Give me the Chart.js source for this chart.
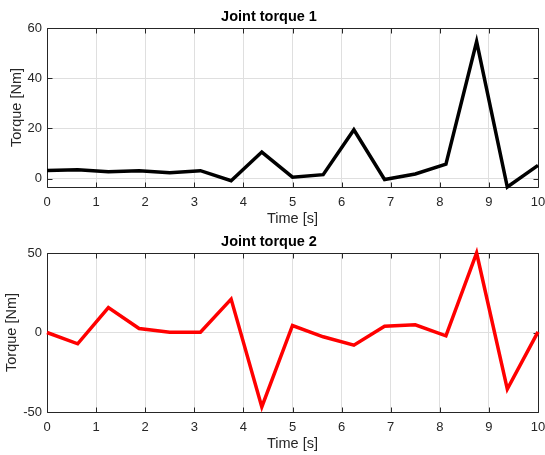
<!DOCTYPE html>
<html><head><meta charset="utf-8">
<script src="https://cdn.jsdelivr.net/npm/chart.js@4/dist/chart.umd.min.js"></script>
<style>
html,body{margin:0;padding:0;background:#fff;}
#wrap{position:relative;width:545px;height:455px;overflow:hidden;background:#fff;}
canvas{position:absolute;left:0;}
</style></head><body>
<div id="wrap">
<canvas id="c1" width="545" height="228" style="top:0px"></canvas>
<canvas id="c2" width="545" height="228" style="top:225px"></canvas>
</div>
<script>
// ---- data ----
const time = [0, 0.625, 1.25, 1.875, 2.5, 3.125, 3.75, 4.375, 5, 5.625, 6.25, 6.875, 7.5, 8.125, 8.75, 9.375, 10];
const torque1 = [3.3, 3.6, 2.8, 3.2, 2.4, 3.2, -0.8, 10.6, 0.6, 1.6, 19.5, -0.3, 1.9, 5.8, 54.6, -3.3, 5.3];
const torque2 = [0, -7.1, 15.7, 2.5, 0.2, 0.2, 21.0, -46.8, 4.4, -2.7, -8.0, 4.0, 4.8, -2.1, 50.0, -35.6, 0.4];
const xTicks = [0, 1, 2, 3, 4, 5, 6, 7, 8, 9, 10];
const yTicks1 = [0, 20, 40, 60];
const yTicks2 = [-50, 0, 50];
const titles = ['Joint torque 1', 'Joint torque 2'];
const xLabel = 'Time [s]';
const yLabel = 'Torque [Nm]';

const FONT = '"Liberation Sans", Arial, Helvetica, sans-serif';
const TXT = '#262626';
const GRID = '#dfdfdf';

const boxPlugin = {
  id: 'matlabBox',
  beforeDatasetsDraw(chart) {
    const {ctx, chartArea: a, scales: {x, y}} = chart;
    const L = Math.round(a.left) + 0.5, R = Math.round(a.right) + 0.5;
    const T = Math.round(a.top) + 0.5, B = Math.round(a.bottom) + 0.5;
    const tl = 5;
    ctx.save();
    ctx.strokeStyle = TXT;
    ctx.lineWidth = 1;
    ctx.beginPath();
    ctx.rect(L, T, R - L, B - T);
    x.ticks.forEach(t => {
      const px = Math.round(x.getPixelForValue(t.value)) + 0.5;
      ctx.moveTo(px, B); ctx.lineTo(px, B - tl);
      ctx.moveTo(px, T); ctx.lineTo(px, T + tl);
    });
    y.ticks.forEach(t => {
      const py = Math.round(y.getPixelForValue(t.value)) + 0.5;
      ctx.moveTo(L, py); ctx.lineTo(L + tl, py);
      ctx.moveTo(R, py); ctx.lineTo(R - tl, py);
    });
    ctx.stroke();
    ctx.restore();
  }
};

function makeChart(id, values, color, yMin, yMax, yTicks, title, yTitlePad) {
  return new Chart(document.getElementById(id), {
    type: 'line',
    data: {
      datasets: [{
        data: time.map((t, i) => ({x: t, y: values[i]})),
        borderColor: color,
        borderWidth: 3.5,
        pointRadius: 0,
        tension: 0,
        fill: false,
        clip: false
      }]
    },
    options: {
      responsive: false,
      animation: false,
      devicePixelRatio: 1,
      layout: {padding: {left: 0, right: 7, top: 0, bottom: 0}},
      plugins: {
        legend: {display: false},
        tooltip: {enabled: false},
        title: {
          display: true, text: title, color: '#000',
          font: {family: FONT, size: 14.5, weight: 'bold'},
          padding: {top: 8, bottom: 2.6}
        }
      },
      scales: {
        x: {
          type: 'linear', min: 0, max: 10,
          afterBuildTicks: s => { s.ticks = xTicks.map(v => ({value: v})); },
          afterFit: s => { s.height = 41; s.paddingLeft = 0; s.paddingRight = 0; },
          grid: {color: GRID, lineWidth: 1, drawTicks: false},
          border: {display: false},
          ticks: {color: TXT, font: {family: FONT, size: 13}, padding: 7.5, maxRotation: 0, autoSkip: false},
          title: {display: true, text: xLabel, color: TXT, font: {family: FONT, size: 14.5}, padding: {top: 0, bottom: 0}}
        },
        y: {
          type: 'linear', min: yMin, max: yMax,
          afterBuildTicks: s => { s.ticks = yTicks.map(v => ({value: v})); },
          afterFit: s => { s.width = 47; s.paddingTop = 0; s.paddingBottom = 0; },
          grid: {color: GRID, lineWidth: 1, drawTicks: false},
          border: {display: false},
          ticks: {color: TXT, font: {family: FONT, size: 13}, padding: 5, autoSkip: false},
          title: {display: true, text: yLabel, color: TXT, font: {family: FONT, size: 14.5}, padding: {top: yTitlePad, bottom: 0}}
        }
      }
    },
    plugins: [boxPlugin]
  });
}

makeChart('c1', torque1, '#000000', -3.3, 60, yTicks1, titles[0], 7.9);
makeChart('c2', torque2, '#ff0000', -50, 50, yTicks2, titles[1], 3.3);
</script>
</body></html>
